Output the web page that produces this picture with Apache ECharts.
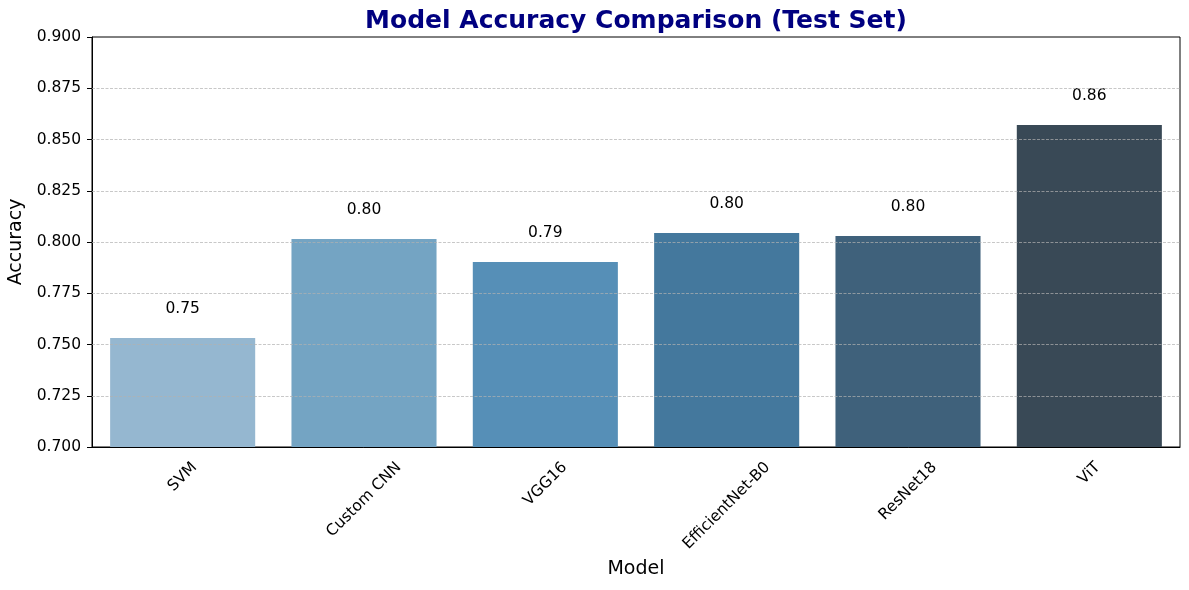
<!DOCTYPE html>
<html><head><meta charset="utf-8">
<script src="https://cdn.jsdelivr.net/npm/echarts@6/dist/echarts.min.js"></script>
<style>html,body{margin:0;padding:0;background:#fff}#c{width:1189px;height:590px}</style>
</head><body><div id="c"></div>
<script>
const models = ['SVM', 'Custom CNN', 'VGG16', 'EfficientNet-B0', 'ResNet18', 'ViT'];
const accuracy = [0.7532, 0.8015, 0.7902, 0.8044, 0.8029, 0.8571];
const barColors = ['#95b7d0', '#74a4c3', '#568fb7', '#44789d', '#3f617b', '#394956'];
const yTicks = [0.700, 0.725, 0.750, 0.775, 0.800, 0.825, 0.850, 0.875, 0.900];

const FONT = '"DejaVu Sans", sans-serif';
const tickFS = 15.5;
const ctx = document.createElement('canvas').getContext('2d');
ctx.font = tickFS + 'px "DejaVu Sans"';
const S = Math.SQRT1_2;

const chart = echarts.init(document.getElementById('c'), null, { renderer: 'canvas' });
chart.setOption({
  animation: false,
  backgroundColor: '#fff',
  title: {
    text: 'Model Accuracy Comparison (Test Set)',
    left: 636, top: 9, padding: 0, textAlign: 'center',
    textStyle: { fontFamily: FONT, fontSize: 25, fontWeight: 'bold', color: '#000080' }
  },
  grid: { left: 92, right: 9, top: 37, bottom: 143, outerBoundsMode: 'none', containLabel: false,
    show: true, borderColor: '#000', borderWidth: 1, backgroundColor: 'transparent' },
  xAxis: {
    type: 'category',
    data: models,
    name: 'Model', nameLocation: 'middle', nameGap: 113,
    nameTextStyle: { fontFamily: FONT, fontSize: 19, color: '#000' },
    axisLine: { lineStyle: { color: '#000', width: 1 } },
    axisTick: { alignWithLabel: true, length: 5, lineStyle: { color: '#000' } },
    axisLabel: { show: false },
    splitLine: { show: false }
  },
  yAxis: {
    type: 'value', min: yTicks[0], max: yTicks[yTicks.length - 1], interval: 0.025,
    name: 'Accuracy', nameLocation: 'middle', nameGap: 62,
    nameTextStyle: { fontFamily: FONT, fontSize: 19, color: '#000' },
    axisLine: { show: true, lineStyle: { color: '#000', width: 1 } },
    axisTick: { show: true, length: 5, lineStyle: { color: '#000' } },
    axisLabel: { margin: 11, fontFamily: FONT, fontSize: tickFS, color: '#000', formatter: v => v.toFixed(3) },
    splitLine: { show: false }
  },
  series: [{
    type: 'bar',
    data: accuracy.map((v, i) => ({ value: v, itemStyle: { color: barColors[i] } })),
    barWidth: '80%',
    label: { show: true, position: 'top', distance: 21, fontFamily: FONT, fontSize: tickFS, color: '#000',
      formatter: p => p.value.toFixed(2) },
    markLine: {
      silent: true, symbol: 'none', precision: 3, label: { show: false },
      lineStyle: { color: 'rgba(176,176,176,0.7)', type: [3, 1.5], width: 1 },
      data: yTicks.slice(1, -1).map(t => ({ yAxis: t }))
    }
  }, {
    type: 'custom',
    silent: true, clip: false,
    data: models.map((m, i) => [i]),
    encode: { x: 0 },
    renderItem: (params, api) => {
      const name = models[params.dataIndex];
      const pt = api.coord([api.value(0), yTicks[0]]);
      const w = ctx.measureText(name).width;
      const h = 18;
      return {
        type: 'text',
        x: pt[0],
        y: pt[1] + 11.5 + S * (w + h) / 2,
        rotation: Math.PI / 4,
        style: { text: name, x: 0, y: 0, align: 'center', verticalAlign: 'middle',
          fontFamily: FONT, fontSize: tickFS, fill: '#000' }
      };
    }
  }]
});
</script></body></html>
